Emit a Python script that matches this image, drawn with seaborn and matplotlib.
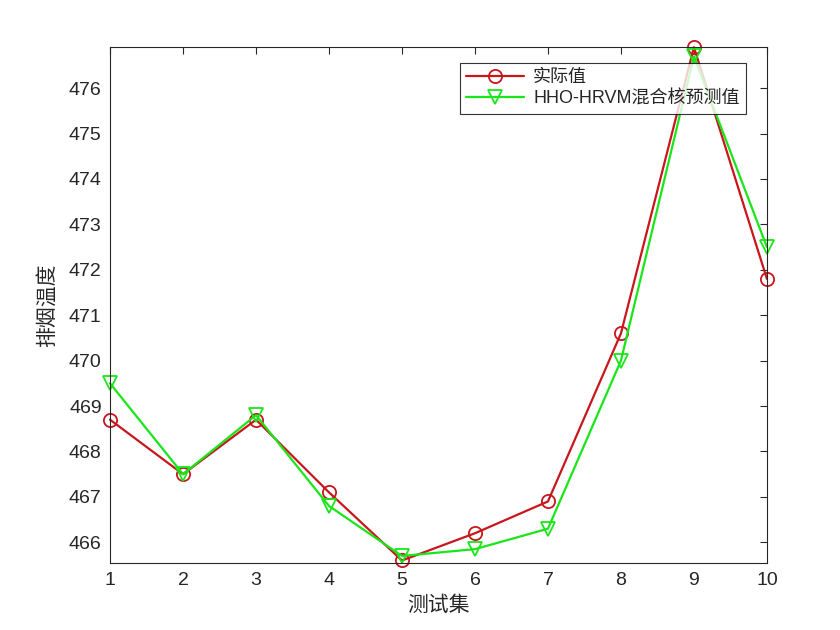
import numpy as np
import pandas as pd
import seaborn as sns
import matplotlib.pyplot as plt

sns.set_style("white")
plt.rcParams["font.family"] = ["Liberation Sans", "Noto Sans CJK SC", "DejaVu Sans"]

test_idx = [1, 2, 3, 4, 5, 6, 7, 8, 9, 10]
actual = [468.7, 467.5, 468.7, 467.1, 465.6, 466.2, 466.9, 470.6, 476.9, 471.8]
predicted = [469.5, 467.5, 468.8, 466.8, 465.7, 465.85, 466.3, 470.0, 476.7, 472.5]
labels = ["实际值", "HHO-HRVM混合核预测值"]

df = pd.DataFrame({"x": test_idx * 2,
                   "y": actual + predicted,
                   "series": [labels[0]] * 10 + [labels[1]] * 10})

fig = plt.figure(figsize=(8.4, 6.3), dpi=100)
ax = fig.add_axes([0.131, 0.106, 0.782, 0.819])

sns.lineplot(data=df, x="x", y="y", hue="series", style="series",
             palette=["#C8161D", "#19E619"], markers=["o", "v"], dashes=False,
             markersize=9.5, markerfacecolor="none", markeredgewidth=1.3,
             linewidth=1.6, ax=ax)

# hollow markers, not clipped at the axes edge
for line in ax.get_lines():
    line.set_markerfacecolor("none")
    line.set_markeredgecolor(line.get_color())
    line.set_clip_on(False)

ax.set_xlim(1, 10)
ax.set_ylim(465.54, 476.9)
ax.set_xticks(range(1, 11))
ax.set_yticks(range(466, 477))
ax.tick_params(direction="in", length=5, labelsize=14, colors="#262626",
               top=True, right=True, labeltop=False, labelright=False, pad=6)
for s in ax.spines.values():
    s.set_color("#262626")
    s.set_linewidth(0.8)

ax.set_xlabel("测试集", fontsize=15, family=["Noto Sans CJK SC"], color="#262626")
ax.set_ylabel("排烟温度", fontsize=15, family=["Noto Sans CJK SC"], color="#262626",
              labelpad=8)

leg = ax.legend(loc="upper right", bbox_to_anchor=(0.968, 0.97), fontsize=13,
                frameon=True, fancybox=False, edgecolor="black", handlelength=3.2,
                borderpad=0.35, labelspacing=0.25, borderaxespad=0, handletextpad=0.5)
leg.set_title(None)
leg.get_frame().set_linewidth(0.8)
for t in leg.get_texts():
    t.set_family(["Liberation Sans", "Noto Sans CJK SC"])

fig.savefig("out.png", dpi=100)
